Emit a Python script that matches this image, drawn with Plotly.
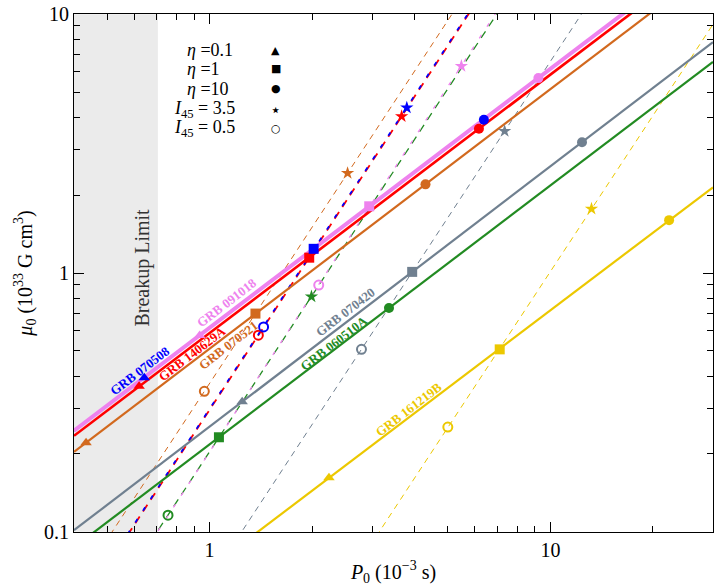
import numpy as np
import plotly.graph_objects as go

# ---------------- data ----------------
grbs = ["GRB 070508", "GRB 140629A", "GRB 091018", "GRB 070521",
        "GRB 070420", "GRB 060510A", "GRB 161219B"]
colors = ["#0000ff", "#ff0000", "#ee82ee", "#d2691e",
          "#708090", "#228b22", "#ecc800"]

# eta = 0.1 (triangles)
tri_P = [0.643, 0.621, 0.935, 0.434, 1.246, None, 2.24]
tri_mu = [0.394, 0.365, 0.574, 0.221, 0.318, None, 0.162]
# eta = 1 (squares)
sq_P = [2.02, 1.96, 2.94, 1.363, 3.93, 1.065, 7.1]
sq_mu = [1.24, 1.146, 1.81, 0.697, 1.01, 0.232, 0.507]
# eta = 10 (circles)
circ_P = [6.38, 6.17, 9.22, 4.30, 12.38, 3.36, 22.3]
circ_mu = [3.91, 3.61, 5.66, 2.20, 3.20, 0.732, 1.6]
# I45 = 3.5 (stars)
star_P = [3.79, 3.66, 5.48, 2.54, 7.34, 1.99, 13.2]
star_mu = [4.35, 4.03, 6.3, 2.43, 3.53, 0.811, 1.77]
# I45 = 0.5 (open circles)
open_P = [1.44, 1.39, 2.09, 0.965, 2.79, 0.755, 5.0]
open_mu = [0.619, 0.575, 0.898, 0.349, 0.507, 0.116, 0.254]

breakup_P = 0.705
x_range = [0.4, 30.0]
y_range = [0.1, 10.0]

legend_labels = ["<i>η</i> =0.1", "<i>η</i> =1", "<i>η</i> =10",
                 "<i>I</i><sub>45</sub> = 3.5", "<i>I</i><sub>45</sub> = 0.5"]
legend_symbols = ["▲", "■", "●", "⋆", "○"]

# ---------------- styles ----------------
solid_w = {"GRB 070508": 1.5, "GRB 140629A": 2.6, "GRB 091018": 4.0}
dash_style = {
    "GRB 070508": ("4px,10px", 1.8),
    "GRB 140629A": ("8px,6px", 1.8),
    "GRB 091018": ("4px,10px", 1.3),
    "GRB 060510A": ("8px,6px", 1.3),
}
# label centre positions in paper fraction
label_pos = {
    "GRB 070508": (0.1031, 0.3127),
    "GRB 140629A": (0.1852, 0.3445),
    "GRB 091018": (0.2391, 0.4437),
    "GRB 070521": (0.2406, 0.3607),
    "GRB 070420": (0.4234, 0.4246),
    "GRB 060510A": (0.4063, 0.3635),
    "GRB 161219B": (0.5234, 0.2367),
}

FONT = "Liberation Serif"
fig = go.Figure()

lx0, lx1 = np.log10(x_range[0]), np.log10(x_range[1])
ly0, ly1 = np.log10(y_range[0]), np.log10(y_range[1])


def fit_line(P, mu):
    pts = [(np.log10(p), np.log10(m)) for p, m in zip(P, mu) if p is not None]
    a = np.array(pts)
    k, b = np.polyfit(a[:, 0], a[:, 1], 1)
    xs = np.array([lx0, lx1])
    return 10 ** xs, 10 ** (k * xs + b)


# dashed (I45 variation) lines
dash_order = [3, 4, 6, 5, 2, 1, 0]
for i in dash_order:
    g = grbs[i]
    xs, ys = fit_line([open_P[i], sq_P[i], star_P[i]], [open_mu[i], sq_mu[i], star_mu[i]])
    d, w = dash_style.get(g, ("6px,5px", 1.0))
    fig.add_trace(go.Scatter(x=xs, y=ys, mode="lines",
                             line=dict(color=colors[i], width=w, dash=d),
                             showlegend=False, hoverinfo="skip"))

# solid (eta variation) lines
solid_order = [6, 5, 4, 3, 1, 0, 2]
for i in solid_order:
    g = grbs[i]
    xs, ys = fit_line([tri_P[i], sq_P[i], circ_P[i]], [tri_mu[i], sq_mu[i], circ_mu[i]])
    fig.add_trace(go.Scatter(x=xs, y=ys, mode="lines",
                             line=dict(color=colors[i], width=solid_w.get(g, 2.2)),
                             showlegend=False, hoverinfo="skip"))

# markers
for i in [6, 5, 4, 3, 2, 1, 0]:
    c = colors[i]
    if tri_P[i] is not None:
        fig.add_trace(go.Scatter(x=[tri_P[i]], y=[tri_mu[i]], mode="markers",
                                 marker=dict(symbol="triangle-up", size=10, color=c),
                                 showlegend=False))
    fig.add_trace(go.Scatter(x=[sq_P[i]], y=[sq_mu[i]], mode="markers",
                             marker=dict(symbol="square", size=10, color=c),
                             showlegend=False))
    fig.add_trace(go.Scatter(x=[circ_P[i]], y=[circ_mu[i]], mode="markers",
                             marker=dict(symbol="circle", size=10, color=c),
                             showlegend=False))
    fig.add_trace(go.Scatter(x=[star_P[i]], y=[star_mu[i]], mode="markers",
                             marker=dict(symbol="star", size=10, color=c),
                             showlegend=False))
    fig.add_trace(go.Scatter(x=[open_P[i]], y=[open_mu[i]], mode="markers",
                             marker=dict(symbol="circle-open", size=9, color=c,
                                         line=dict(width=2, color=c)),
                             showlegend=False))

# breakup-limit shading
fig.add_shape(type="rect", xref="x", yref="y", x0=x_range[0], x1=breakup_P,
              y0=y_range[0], y1=y_range[1], fillcolor="#ebebeb",
              line=dict(width=0), layer="below")

ann = []
ann.append(dict(x=0.108, y=0.5105, xref="paper", yref="paper", text="Breakup Limit",
                textangle=-90, showarrow=False, xanchor="center", yanchor="middle",
                font=dict(family=FONT, size=20, color="#333333")))
for g, c in zip(grbs, colors):
    px, py = label_pos[g]
    ann.append(dict(x=px, y=py, xref="paper", yref="paper", text="<b>%s</b>" % g,
                    textangle=-37.5, showarrow=False, xanchor="center", yanchor="middle",
                    font=dict(family=FONT, size=13, color=c)))

leg_y = [44, 63, 83, 104, 123]
leg_x = [185, 185, 185, 172, 172]
for lab, sym, yy, xx in zip(legend_labels, legend_symbols, leg_y, leg_x):
    ann.append(dict(x=(xx - 74) / 640, y=(531.5 - yy) / 524, xref="paper", yref="paper",
                    text=lab, showarrow=False, xanchor="left", yanchor="middle",
                    font=dict(family=FONT, size=18, color="black")))
    ann.append(dict(x=(276 - 74) / 640, y=(531.5 - yy) / 524, xref="paper", yref="paper",
                    text=sym, showarrow=False, xanchor="center", yanchor="middle",
                    font=dict(family="DejaVu Sans", size=11 if sym != "⋆" else 18,
                              color="black")))

xminor = [0.5, 0.6, 0.7, 0.8, 0.9, 2, 3, 4, 5, 6, 7, 8, 9, 20]
yminor = [0.2, 0.3, 0.4, 0.5, 0.6, 0.7, 0.8, 0.9, 2, 3, 4, 5, 6, 7, 8, 9]

axis_common = dict(type="log", showgrid=False, zeroline=False, showline=True,
                   linecolor="black", linewidth=1, mirror="allticks",
                   ticks="inside", ticklen=10, tickcolor="black",
                   ticklabeloverflow="allow",
                   tickfont=dict(family=FONT, size=20, color="black"))

fig.update_layout(
    width=717, height=588,
    margin=dict(l=74, r=3, t=8, b=56),
    plot_bgcolor="white", paper_bgcolor="white",
    annotations=ann,
    xaxis=dict(axis_common, range=[lx0, lx1], tickvals=[1, 10], ticktext=["1", "10"],
               minor=dict(tickvals=xminor, ticks="inside", ticklen=6, tickcolor="black"),
               title=dict(text="<i>P</i><sub>0</sub> (10<sup>−3</sup> s)",
                          font=dict(family=FONT, size=20, color="black"), standoff=4)),
    yaxis=dict(axis_common, range=[ly0 - 0.0005, ly1 + 0.0005],
               tickvals=[0.1, 1, 10], ticktext=["0.1", "1", "10"],
               minor=dict(tickvals=yminor, ticks="inside", ticklen=6, tickcolor="black"),
               title=dict(text="<i>μ</i><sub>0</sub> (10<sup>33</sup> G cm<sup>3</sup>)",
                          font=dict(family=FONT, size=20, color="black"), standoff=6)),
)

fig.write_html("out.html")
